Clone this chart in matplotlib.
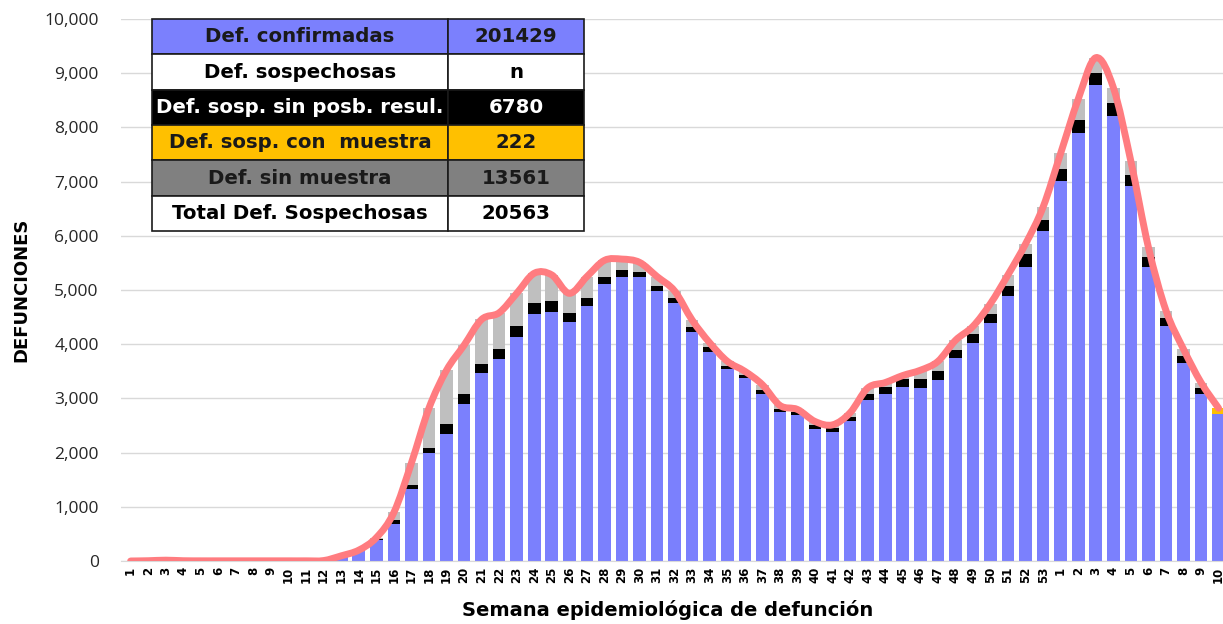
import numpy as np
import matplotlib
matplotlib.use("Agg")
import matplotlib.pyplot as plt
from matplotlib.path import Path
from matplotlib.patches import PathPatch

# ---- data ----------------------------------------------------------------
weeks = [str(w) for w in range(1, 54)] + [str(w) for w in range(1, 11)]

confirmadas = [0, 5, 15, 5, 3, 3, 3, 3, 3, 3, 3, 8, 80,
               185, 390, 690, 1327, 1988, 2340, 2901, 3463, 3728, 4136,
               4556, 4586, 4401, 4710, 5111, 5247, 5235, 4988, 4753, 4228,
               3864, 3543, 3370, 3074, 2747, 2685, 2438, 2389, 2574, 2963,
               3090, 3210, 3195, 3338, 3746, 4025, 4394, 4893, 5418, 6092,
               7006, 7894, 8782, 8218, 6922, 5431, 4329, 3649, 3085, 2709]

sin_posib = [0] * 12 + [5,
             10, 25, 62, 80, 100, 180, 185, 167, 191, 191,
             198, 216, 167, 148, 136, 123, 105, 93, 93, 93,
             80, 62, 68, 80, 62, 62, 74, 74, 80, 111,
             125, 149, 162, 168, 149, 156, 162, 181, 240, 201,
             233, 240, 214, 240, 207, 175, 162, 130, 110, 0]

con_muestra = [0] * 62 + [110]

sin_muestra = [0] * 12 + [10,
               5, 15, 143, 401, 733, 999, 895, 827, 661, 611,
               555, 476, 370, 389, 300, 200, 170, 166, 135, 123,
               81, 80, 62, 99, 61, 49, 62, 49, 81, 117,
               77, 63, 162, 175, 175, 148, 194, 208, 194, 240,
               285, 388, 290, 278, 246, 181, 130, 129, 97, 0]

table_rows = ["Def. confirmadas", "Def. sospechosas", "Def. sosp. sin posb. resul.",
              "Def. sosp. con  muestra", "Def. sin muestra", "Total Def. Sospechosas"]
table_vals = ["201429", "n", "6780", "222", "13561", "20563"]

BLUE, BLACK, GOLD, GRAY = "#7B80FD", "#000000", "#FFC000", "#BFBFBF"
LINE = "#FF7C80"

# ---- figure ---------------------------------------------------------------
fig = plt.figure(figsize=(12.23, 6.24), dpi=100)
ax = fig.add_axes([121 / 1223, 63 / 624, 1102 / 1223, 542 / 624])

x = np.arange(len(weeks))
conf = np.array(confirmadas, float)
blk = np.array(sin_posib, float)
gld = np.array(con_muestra, float)
gry = np.array(sin_muestra, float)

w = 0.72
ax.bar(x, conf, w, color=BLUE, zorder=2)
ax.bar(x, blk, w, bottom=conf, color=BLACK, zorder=2)
ax.bar(x, gld, w, bottom=conf + blk, color=GOLD, zorder=2)
ax.bar(x, gry, w, bottom=conf + blk + gld, color=GRAY, zorder=2)

# smoothed total line (Catmull-Rom as cubic Bezier segments)
tot = conf + blk + gld + gry
pts = np.column_stack([x, tot])
verts = [tuple(pts[0])]
codes = [Path.MOVETO]
n = len(pts)
for i in range(n - 1):
    p0 = pts[max(i - 1, 0)]
    p1 = pts[i]
    p2 = pts[i + 1]
    p3 = pts[min(i + 2, n - 1)]
    c1 = p1 + (p2 - p0) / 6
    c2 = p2 - (p3 - p1) / 6
    verts += [tuple(c1), tuple(c2), tuple(p2)]
    codes += [Path.CURVE4] * 3
ax.add_patch(PathPatch(Path(verts, codes), facecolor="none", edgecolor=LINE,
                       lw=5, capstyle="round", joinstyle="round", zorder=3))

ax.set_xlim(-0.55, 62.25)
ax.set_ylim(0, 10000)
ax.set_yticks(np.arange(0, 10001, 1000))
ax.set_yticklabels([f"{v:,}" for v in range(0, 10001, 1000)],
                   fontsize=12.5, family="Open Sans", color="#262626")
ax.set_xticks(x)
ax.set_xticklabels(weeks, rotation=90, fontsize=8.5, fontweight="bold",
                   family="DejaVu Sans")
ax.tick_params(axis="both", length=0)
ax.tick_params(axis="y", pad=16)
ax.tick_params(axis="x", pad=4)
ax.grid(axis="y", color="#D9D9D9", lw=1, zorder=0)
for s in ["top", "right", "left"]:
    ax.spines[s].set_visible(False)
ax.spines["bottom"].set_color("#D9D9D9")

ax.set_ylabel("DEFUNCIONES", fontsize=13, fontweight="bold", labelpad=10)
ax.set_xlabel("Semana epidemiológica de defunción", fontsize=14,
              fontweight="bold")
ax.xaxis.set_label_coords((668 - 121) / 1102, -(600 - 561) / 542)

# ---- summary table ----------------------------------------------------------
row_bg = [BLUE, "#FFFFFF", "#000000", GOLD, "#808080", "#FFFFFF"]
row_fg = ["#1A1A1A", "#000000", "#FFFFFF", "#1A1A1A", "#1A1A1A", "#000000"]
cells = [[r, v] for r, v in zip(table_rows, table_vals)]
tb = ax.table(cellText=cells, cellColours=[[c, c] for c in row_bg],
              colWidths=[0.685, 0.315], cellLoc="center",
              bbox=[(152 - 121) / 1102, (561 - 231) / 542, 432 / 1102, 212 / 542])
tb.auto_set_font_size(False)
for (r, c), cell in tb.get_celld().items():
    cell.set_edgecolor("#1A1A1A")
    cell.set_linewidth(1.2)
    cell.get_text().set_fontsize(14.2)
    cell.get_text().set_fontweight("bold")
    cell.get_text().set_color(row_fg[r])
tb.set_zorder(5)

fig.savefig("out.png", dpi=100)
